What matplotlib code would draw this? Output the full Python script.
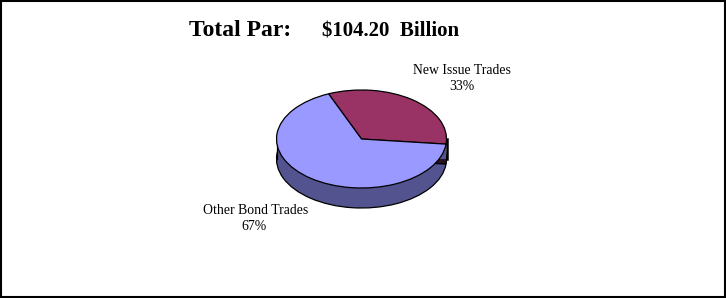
import matplotlib
matplotlib.use("Agg")
import matplotlib.pyplot as plt
from matplotlib.patches import Rectangle

# ---- data ----
categories = ["New Issue Trades", "Other Bond Trades"]
shares = [33, 67]
pct_labels = ["33%", "67%"]
title_left = "Total Par:"
title_right = "$104.20  Billion"

top_colors = ["#993366", "#9999ff"]
side_colors = ["#2a1020", "#53538f"]

W, H = 726, 298
fig = plt.figure(figsize=(W / 100, H / 100), dpi=100)
fig.patch.set_facecolor("white")

# overlay axes in pixel coordinates
bg = fig.add_axes([0, 0, 1, 1])
bg.set_xlim(0, W)
bg.set_ylim(H, 0)
bg.axis("off")
bg.add_patch(Rectangle((0.75, 0.5), W - 1.75, H - 1.5, fill=False,
                       edgecolor="black", linewidth=1.5))

serif = ["Liberation Serif", "DejaVu Serif"]
bg.text(189, 36.5, title_left, fontsize=17, fontweight="bold", family=serif,
        ha="left", va="baseline")
bg.text(322, 36.5, title_right, fontsize=15, fontweight="bold", family=serif,
        ha="left", va="baseline")

fs = 9.9
bg.text(462, 70, categories[0], fontsize=fs, family=serif, ha="center", va="center")
bg.text(462, 86, pct_labels[0], fontsize=fs, family=serif, ha="center", va="center")
bg.text(256, 210, categories[1], fontsize=fs, family=serif, ha="center", va="center")
bg.text(254, 227, pct_labels[1], fontsize=fs, family=serif, ha="center", va="center")

# ---- pie geometry (pixels) ----
cx, cy, rx, ry, depth = 361.5, 139.0, 85.0, 49.0, 20.0
m = 0.1
d = depth / ry
x0 = cx - (1 + m) * rx
x1 = cx + (1 + m) * rx
ytop = cy - (1 + m) * ry
ybot = cy + (1 + d + m) * ry
ax = fig.add_axes([x0 / W, (H - ybot) / H, (x1 - x0) / W, (ybot - ytop) / H])

wp = dict(edgecolor="black", linewidth=0.9)
bottom, _ = ax.pie(shares, colors=side_colors, startangle=-6, counterclock=True,
                   center=(0, -d), radius=1, wedgeprops=wp)
for p in bottom:
    p.set_zorder(1)
ax.add_patch(Rectangle((-1, -d), 2, d, facecolor=side_colors[1],
                       edgecolor="none", zorder=2))
ax.plot([-1, -1], [-d, 0], color="black", linewidth=0.9, zorder=3)
ax.plot([1, 1], [-d, 0], color="black", linewidth=1.8, zorder=3)
top, _ = ax.pie(shares, colors=top_colors, startangle=-6, counterclock=True,
                center=(0, 0), radius=1, wedgeprops=wp)
for p in top:
    p.set_zorder(4)

ax.set_aspect("auto")
ax.set_xlim(-1 - m, 1 + m)
ax.set_ylim(-1 - d - m, 1 + m)
ax.axis("off")

fig.savefig("out.png", dpi=100, facecolor="white")
